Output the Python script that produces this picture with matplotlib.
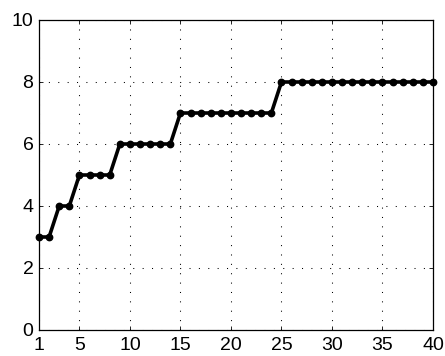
import matplotlib
matplotlib.use("Agg")
import matplotlib.pyplot as plt

x = list(range(1, 41))
y = [3, 3, 4, 4, 5, 5, 5, 5, 6, 6, 6, 6, 6, 6,
     7, 7, 7, 7, 7, 7, 7, 7, 7, 7,
     8, 8, 8, 8, 8, 8, 8, 8, 8, 8, 8, 8, 8, 8, 8, 8]
xticks = [1, 5, 10, 15, 20, 25, 30, 35, 40]
yticks = [0, 2, 4, 6, 8, 10]

plt.rcParams['font.family'] = ['Liberation Sans', 'DejaVu Sans']
fig = plt.figure(figsize=(4.45, 3.56), dpi=100)
ax = fig.add_axes([39/445, 1 - 330/356, (433-39)/445, (330-20)/356])
ax.plot(x, y, color='black', linewidth=2.6, marker='o', markersize=4.6, zorder=3,
        clip_on=False)
ax.set_xlim(1, 40)
ax.set_ylim(0, 10)
ax.set_xticks(xticks)
ax.set_yticks(yticks)
ax.grid(True, color='black', linestyle=(0, (1, 8)), linewidth=0.75)
ax.tick_params(direction='in', labelsize=14, length=3, width=0.6, top=True, right=True,
               labeltop=False, labelright=False)
ax.tick_params(axis='x', pad=5)
ax.tick_params(axis='y', pad=4)
for s in ax.spines.values():
    s.set_linewidth(0.9)
fig.savefig("out.png", dpi=100)
